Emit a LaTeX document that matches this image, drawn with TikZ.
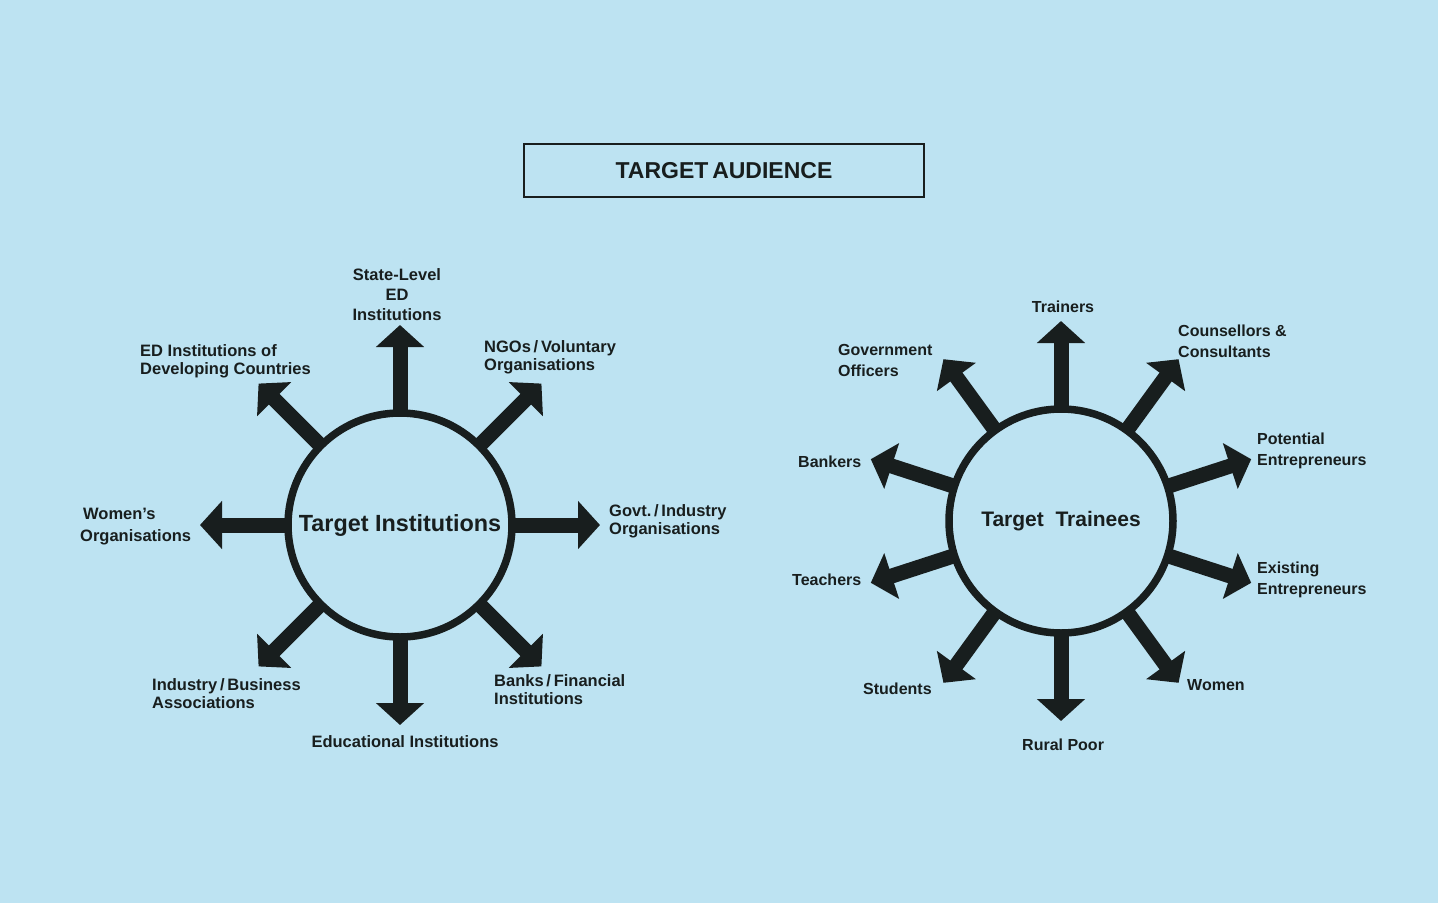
\documentclass[tikz,border=0pt]{standalone}
\usepackage{fontspec}
\setmainfont{Liberation Sans}
\usetikzlibrary{arrows.meta}
\definecolor{bg}{RGB}{189,227,242}
\definecolor{ink}{RGB}{24,30,30}
\begin{document}
\begin{tikzpicture}[x=1pt,y=1pt,
  hubA/.style={circle,draw=ink,line width=7.5pt,minimum size=224pt,inner sep=0pt,
    text=ink,font=\bfseries\fontsize{23.4}{26}\selectfont},
  hubB/.style={hubA,font=\bfseries\fontsize{21}{24}\selectfont},
  fat/.style={draw=ink,line width=15pt,shorten <=-5pt,
    -{Triangle[length=22pt,width=47pt]}},
  lblA/.style={font=\bfseries\fontsize{16.5}{18}\selectfont,text=ink,inner sep=0pt,align=left},
  lblB/.style={font=\bfseries\fontsize{16}{21}\selectfont,text=ink,inner sep=0pt,align=left},
  titlebox/.style={draw=ink,line width=2.7pt,minimum width=400pt,minimum height=53pt,
    inner sep=0pt,text=ink,font=\bfseries\fontsize{23}{25}\selectfont}
]
\fill[bg] (0,0) rectangle (1438,-903);
\useasboundingbox (0,0) rectangle (1438,-903);

% title
\node[titlebox] (title) at (724,-170.5) {TARGET\,AUDIENCE};

% left diagram
\node[hubA] (ti) at (400,-525) {Target Institutions};
\foreach \a in {0,45,90,135,180,225,270,315}{
  \path (ti.center) ++(\a:200) coordinate (ti\a);
  \draw[fat] (ti.\a) -- (ti\a);
}
\node[lblA,align=center,font=\bfseries\fontsize{16.5}{20}\selectfont] (lsl) at (397,-295) {State-Level\\ED\\Institutions};
\node[lblA,anchor=west] (led) at (140,-361) {ED Institutions of\\Developing Countries};
\node[lblA,anchor=west] (lngo) at (484,-357) {NGOs\,/\,Voluntary\\Organisations};
\node[lblA,anchor=west,font=\bfseries\fontsize{16.5}{22}\selectfont] (lwo) at (80,-527) {\hspace*{3pt}Women's\\Organisations};
\node[lblA,anchor=west] (lgov) at (609,-521) {Govt.\,/\,Industry\\Organisations};
\node[lblA,anchor=west] (lind) at (152,-694) {Industry\,/\,Business\\Associations};
\node[lblA,anchor=west] (lbank) at (494,-690) {Banks\,/\,Financial\\Institutions};
\node[lblA] (ledu) at (405,-742) {Educational Institutions};

% right diagram
\node[hubB] (tt) at (1061,-521) {Target\ \ Trainees};
\foreach \a in {90,54,18,342,306,270,234,198,162,126}{
  \path (tt.center) ++(\a:200) coordinate (tt\a);
  \draw[fat] (tt.\a) -- (tt\a);
}
\node[lblB] (ltr) at (1063,-307) {Trainers};
\node[lblB,anchor=west] (lcou) at (1178,-341) {Counsellors \&\\Consultants};
\node[lblB,anchor=west] (lgo) at (838,-360) {Government\\Officers};
\node[lblB,anchor=west] (lpot) at (1257,-451) {Potential\\Entrepreneurs};
\node[lblB,anchor=west] (lbk) at (798,-462) {Bankers};
\node[lblB,anchor=west] (ltea) at (792,-580) {Teachers};
\node[lblB,anchor=west] (lex) at (1257,-580) {Existing\\Entrepreneurs};
\node[lblB,anchor=west] (lstu) at (863,-689) {Students};
\node[lblB,anchor=west] (lwom) at (1187,-685) {Women};
\node[lblB,anchor=west] (lrur) at (1022,-745) {Rural Poor};
\end{tikzpicture}
\end{document}
